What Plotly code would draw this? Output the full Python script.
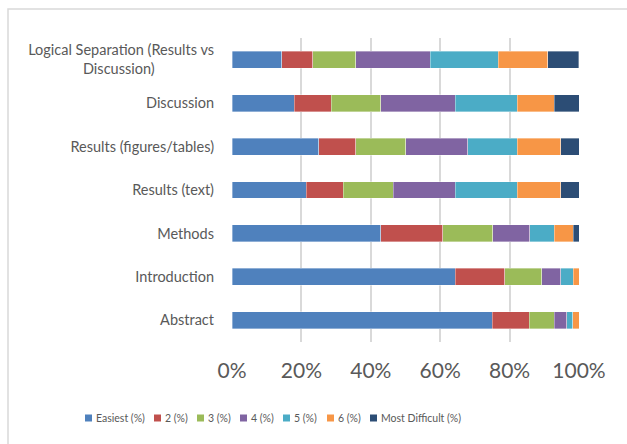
import plotly.graph_objects as go

categories = [
    "Logical Separation (Results vs<br>Discussion)",
    "Discussion",
    "Results (figures/tables)",
    "Results (text)",
    "Methods",
    "Introduction",
    "Abstract",
]
series_names = ["Easiest (%)", "2 (%)", "3 (%)", "4 (%)", "5 (%)", "6 (%)", "Most Difficult (%)"]
easiest = [14.3, 17.9, 25.0, 21.4, 42.9, 64.3, 75.0]
s2 = [8.9, 10.7, 10.7, 10.7, 17.9, 14.3, 10.7]
s3 = [12.5, 14.3, 14.3, 14.3, 14.3, 10.7, 7.1]
s4 = [21.4, 21.4, 17.9, 17.9, 10.7, 5.4, 3.6]
s5 = [19.6, 17.9, 14.3, 17.9, 7.1, 3.6, 1.8]
s6 = [14.3, 10.7, 12.5, 12.5, 5.4, 1.8, 1.8]
most_difficult = [8.9, 7.1, 5.4, 5.4, 1.8, 0.0, 0.0]
colors = ["#4F81BD", "#C0504D", "#9BBB59", "#8064A2", "#4BACC6", "#F79646", "#2C4D75"]

all_series = [easiest, s2, s3, s4, s5, s6, most_difficult]

# centre the second line of the first label under the first line
labels = list(categories)
labels[0] = "Logical Separation (Results vs<br>Discussion)" + "&nbsp;" * 16

fig = go.Figure()
for name, vals, col in zip(series_names, all_series, colors):
    fig.add_trace(go.Bar(
        y=labels, x=vals, name=name, orientation="h",
        marker=dict(color=col, line=dict(color="rgba(255,255,255,0.6)", width=0.6)),
        showlegend=False,
    ))

W, H = 627, 444
L, R, T, B = 232, 48, 38, 102
pw, ph = W - L - R, H - T - B

def px(x):
    return (x - L) / pw

def py(y):
    return 1 - (y - T) / ph

# compact legend row (Excel style): small squares followed by the series name
legend_left = [85, 154, 197, 240, 283, 327, 370]
legend_y = 418
shapes = [
    dict(type="rect", xref="paper", yref="paper",
         x0=px(8), x1=px(700), y0=py(500), y1=py(9),
         line=dict(color="#D9D9D9", width=1.5), layer="below"),
]
annotations = []
for name, col, lx in zip(series_names, colors, legend_left):
    shapes.append(dict(type="rect", xref="paper", yref="paper",
                       x0=px(lx), x1=px(lx + 7), y0=py(legend_y + 3.5), y1=py(legend_y - 3.5),
                       fillcolor=col, line=dict(width=0)))
    annotations.append(dict(xref="paper", yref="paper", x=px(lx + 8.5), y=py(legend_y),
                            xanchor="left", yanchor="middle", showarrow=False,
                            text=name, font=dict(size=10.5, color="#595959", family="Lato")))

fig.update_layout(
    width=W, height=H,
    margin=dict(l=L, r=R, t=T, b=B, autoexpand=False),
    barmode="stack",
    bargap=0.61,
    plot_bgcolor="white",
    paper_bgcolor="white",
    font=dict(family="Lato", color="#595959"),
    xaxis=dict(
        range=[0, 100], dtick=20, ticksuffix="%",
        showgrid=True, gridcolor="#D9D9D9", gridwidth=1.5,
        zeroline=False, showline=False,
        tickfont=dict(size=21, color="#595959"),
        ticks="", ticklabelstandoff=14,
        fixedrange=True,
    ),
    yaxis=dict(
        autorange="reversed",
        showgrid=False, zeroline=False, showline=False,
        tickfont=dict(size=14.5, color="#595959"),
        ticks="", ticklabelstandoff=17,
    ),
    showlegend=False,
    shapes=shapes,
    annotations=annotations,
)

fig.write_html("out.html")
